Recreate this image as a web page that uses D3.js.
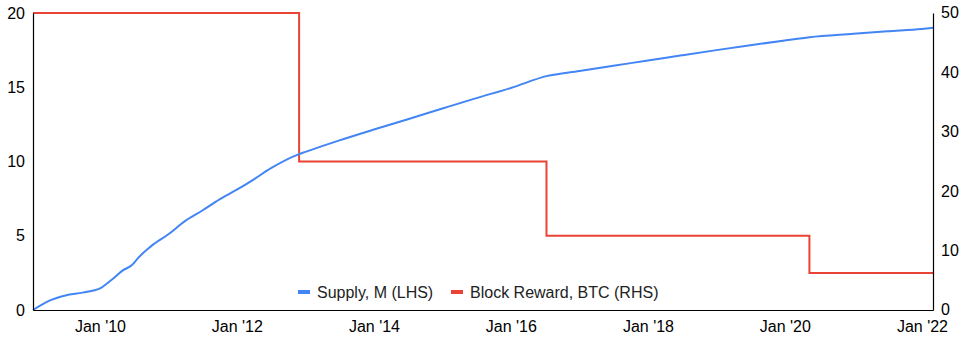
<!DOCTYPE html>
<html>
<head>
<meta charset="utf-8">
<script src="https://cdn.jsdelivr.net/npm/d3@7"></script>
<style>
  html, body { margin: 0; padding: 0; background: #fff; }
  svg text { font-family: "Liberation Sans", Arial, sans-serif; }
</style>
</head>
<body>
<svg id="chart" width="966" height="344"></svg>
<script>
// ---- Data ----
const supplyDates = ["2009-01-09","2009-04-01","2009-07-01","2009-10-01","2010-01-01","2010-03-01","2010-05-01","2010-07-01","2010-07-10","2010-10-01",
  "2011-01-01","2011-04-01","2011-07-01","2011-10-01","2012-01-01","2012-04-01","2012-07-01","2012-11-28","2013-01-01","2013-07-01",
  "2014-01-01","2014-07-01","2015-01-01","2015-07-01","2016-01-01","2016-07-09","2017-01-01","2017-07-01","2018-01-01","2018-07-01",
  "2019-01-01","2019-07-01","2020-01-01","2020-05-11","2021-01-01","2021-07-01","2022-01-01","2022-03-01"];
const supplyValues = [0, 0.6, 0.98, 1.17, 1.45, 2.0, 2.65, 3.15, 3.3, 4.3,
  5.1, 6.0, 6.7, 7.45, 8.1, 8.8, 9.55, 10.5, 10.65, 11.42,
  12.15, 12.85, 13.57, 14.27, 14.95, 15.75, 16.1, 16.45, 16.8, 17.15,
  17.5, 17.83, 18.15, 18.37, 18.6, 18.77, 18.93, 19.0];

const rewardDates = ["2009-01-09","2012-11-28","2016-07-09","2020-05-11","2022-03-01"];
const rewardValues = [50, 25, 12.5, 6.25, 6.25];

const xTickDates = ["2010-01-01","2012-01-01","2014-01-01","2016-01-01","2018-01-01","2020-01-01","2022-01-01"];
const xTickLabels = ["Jan '10","Jan '12","Jan '14","Jan '16","Jan '18","Jan '20","Jan '22"];
const leftTicks = [0, 5, 10, 15, 20];
const rightTicks = [0, 10, 20, 30, 40, 50];

const seriesNames = ["Supply, M (LHS)", "Block Reward, BTC (RHS)"];
const colors = ["#4285f4", "#ea4335"];

// ---- Layout ----
(function () {
const parse = d3.timeParse("%Y-%m-%d");
const svg = d3.select("#chart");
const mLeft = 33, mRight = 933, mTop = 13, mBottom = 310;

const x = d3.scaleTime()
  .domain([parse("2009-01-09"), parse("2022-03-01")])
  .range([mLeft, mRight]);
const yL = d3.scaleLinear().domain([0, 20]).range([mBottom, mTop]);
const yR = d3.scaleLinear().domain([0, 50]).range([mBottom, mTop]);

const supply = supplyDates.map((d, i) => ({ date: parse(d), v: supplyValues[i] }));
const reward = rewardDates.map((d, i) => ({ date: parse(d), v: rewardValues[i] }));

// Lines
svg.append("path")
  .datum(reward)
  .attr("fill", "none")
  .attr("stroke", colors[1])
  .attr("stroke-width", 2)
  .attr("d", d3.line().x(d => x(d.date)).y(d => yR(d.v)).curve(d3.curveStepAfter));

svg.append("path")
  .datum(supply)
  .attr("fill", "none")
  .attr("stroke", colors[0])
  .attr("stroke-width", 2)
  .attr("stroke-linejoin", "round")
  .attr("d", d3.line().x(d => x(d.date)).y(d => yL(d.v)).curve(d3.curveMonotoneX));

// Axes
const axL = svg.append("g").attr("transform", `translate(${mLeft},0)`)
  .call(d3.axisLeft(yL).tickValues(leftTicks).tickSize(0).tickPadding(8));
const axR = svg.append("g").attr("transform", `translate(${mRight},0)`)
  .call(d3.axisRight(yR).tickValues(rightTicks).tickSize(0).tickPadding(8));
const axB = svg.append("g").attr("transform", `translate(0,${mBottom})`)
  .call(d3.axisBottom(x).tickValues(xTickDates.map(parse)).tickSize(0).tickPadding(11)
    .tickFormat((d, i) => xTickLabels[i]));

[axL, axR, axB].forEach(g => {
  g.select(".domain").attr("stroke", "#000").attr("stroke-width", 1.2);
  g.selectAll("text").attr("font-size", 16).attr("fill", "#000");
});
axR.selectAll(".tick text").attr("dy", "0.3em");

// Legend
const legend = svg.append("g").attr("transform", "translate(0,292)");
const legendX = [298, 451];
seriesNames.forEach((name, i) => {
  legend.append("rect")
    .attr("x", legendX[i]).attr("y", -2).attr("width", 12).attr("height", 4)
    .attr("fill", colors[i]);
  legend.append("text")
    .attr("x", legendX[i] + 19).attr("y", 6)
    .attr("font-size", 16).attr("fill", "#222")
    .text(name);
});
})();
</script>
</body>
</html>
